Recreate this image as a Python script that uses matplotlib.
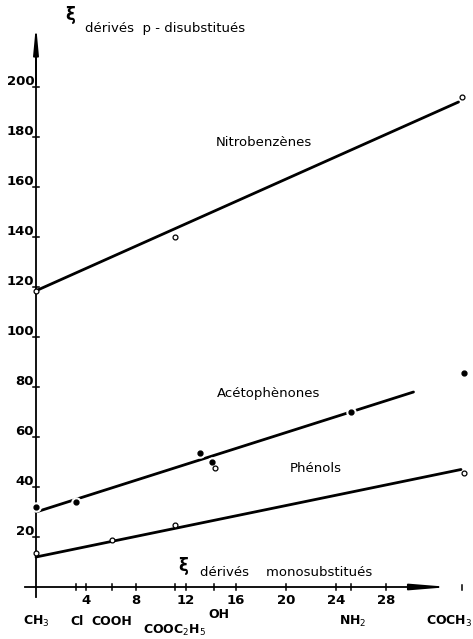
import matplotlib.pyplot as plt
import numpy as np

# substituent positions on the xi(mono) scale
subst_names = ['CH$_3$', 'Cl', 'COOH', 'COOC$_2$H$_5$', 'OH', 'NH$_2$', 'COCH$_3$']
subst_x = [0, 3.2, 6.1, 11.1, 14.2, 25.2, 34.1]

# nitrobenzenes (open circles) and fitted line
nitro_x = [0, 11.1, 34.1]
nitro_y = [118.5, 140, 196]
nitro_fit_x = [0, 33.8]
nitro_fit_y = [118.5, 194]

# acetophenones (filled dots) and fitted line
aceto_x = [0, 3.2, 13.1, 14.1, 25.2, 34.2]
aceto_y = [32, 34, 53.6, 50, 70, 85.6]
aceto_fit_x = [0, 30.2]
aceto_fit_y = [30, 78]

# phenols (open circles) and fitted line
phenol_x = [0, 6.1, 11.1, 14.3, 34.2]
phenol_y = [13.6, 18.8, 25, 47.6, 45.6]
phenol_fit_x = [0, 34.0]
phenol_fit_y = [12, 47]

x_ticks = [4, 8, 12, 16, 20, 24, 28]
y_ticks = [20, 40, 60, 80, 100, 120, 140, 160, 180, 200]

fig = plt.figure(figsize=(4.73, 6.39), dpi=100)
ax = fig.add_axes([0, 0, 1, 1])
ax.set_xlim(-2.88, 34.96)
ax.set_ylim(-20.8, 234.8)
ax.axis('off')

# axes drawn by hand
ax.plot([0, 0], [-4, 215], color='black', lw=1.3)
ax.annotate('', xy=(0, 226), xytext=(0, 200),
            arrowprops=dict(arrowstyle='-|>,head_length=1.6,head_width=0.15', color='black', lw=1.3))
ax.plot([-0.9, 29.8], [0, 0], color='black', lw=1.3)
ax.plot([29.8, 31.2], [0, 0], color='black', lw=1.0, ls=':')
ax.annotate('', xy=(33.3, 0), xytext=(31.0, 0),
            arrowprops=dict(arrowstyle='-|>,head_length=2.2,head_width=0.18', color='black', lw=1.3))

# tick marks
for yt in y_ticks:
    ax.plot([-0.25, 0.25], [yt, yt], color='black', lw=1.1)
    ax.text(-0.15, yt + 2.2, str(yt), ha='right', va='center', fontsize=9.5,
            fontweight='bold', family='DejaVu Sans Condensed')
for xt in x_ticks + subst_x[1:6]:
    ax.plot([xt, xt], [-1.2, 1.2], color='black', lw=1.1)
ax.plot([subst_x[6], subst_x[6]], [-1.0, 1.0], color='black', lw=1.1)
for xt in x_ticks:
    ax.text(xt, -5.2, str(xt), ha='center', va='center', fontsize=9.5,
            fontweight='bold', family='DejaVu Sans Condensed')

# substituent labels
label_x = [0, 3.3, 6.1, 11.1, 14.6, 25.3, 34.9]
label_y = [-13.8, -13.8, -13.8, -17.4, -10.9, -13.8, -13.8]
for name, lx, ly in zip(subst_names, label_x, label_y):
    ha = 'right' if name.startswith('COCH') else 'center'
    ax.text(lx, ly, name, ha=ha, va='center',
            fontsize=9, family='DejaVu Sans Condensed', fontweight='bold')

# fitted lines
ax.plot(nitro_fit_x, nitro_fit_y, color='black', lw=2.0, solid_capstyle='round')
ax.plot(aceto_fit_x, aceto_fit_y, color='black', lw=2.0, solid_capstyle='round')
ax.plot(phenol_fit_x, phenol_fit_y, color='black', lw=2.0, solid_capstyle='round')

# points
ax.plot(aceto_x, aceto_y, 'o', ms=6.5, color='white', zorder=3)
ax.plot(aceto_x, aceto_y, 'o', ms=3.5, color='black', zorder=4)
ax.plot(nitro_x, nitro_y, 'o', ms=3.5, mfc='white', mec='black', mew=0.9, zorder=4)
ax.plot(phenol_x, phenol_y, 'o', ms=3.5, mfc='white', mec='black', mew=0.9, zorder=4)

# series labels
ax.text(18.2, 178, 'Nitrobenzènes', ha='center', va='center', fontsize=9.5)
ax.text(18.6, 77.6, 'Acétophènones', ha='center', va='center', fontsize=9.5)
ax.text(22.4, 47.2, 'Phénols', ha='center', va='center', fontsize=9.5)

# axis titles
ax.text(2.72, 228.8, 'ξ', ha='center', va='center', fontsize=12, fontweight='bold')
ax.text(3.9, 223.6, 'dérivés  p - disubstitués', ha='left', va='center', fontsize=9.5)
ax.text(11.8, 8.4, 'ξ', ha='center', va='center', fontsize=12, fontweight='bold')
ax.text(13.1, 5.6, 'dérivés    monosubstitués', ha='left', va='center', fontsize=9.5)

fig.savefig('out.png', dpi=100)
